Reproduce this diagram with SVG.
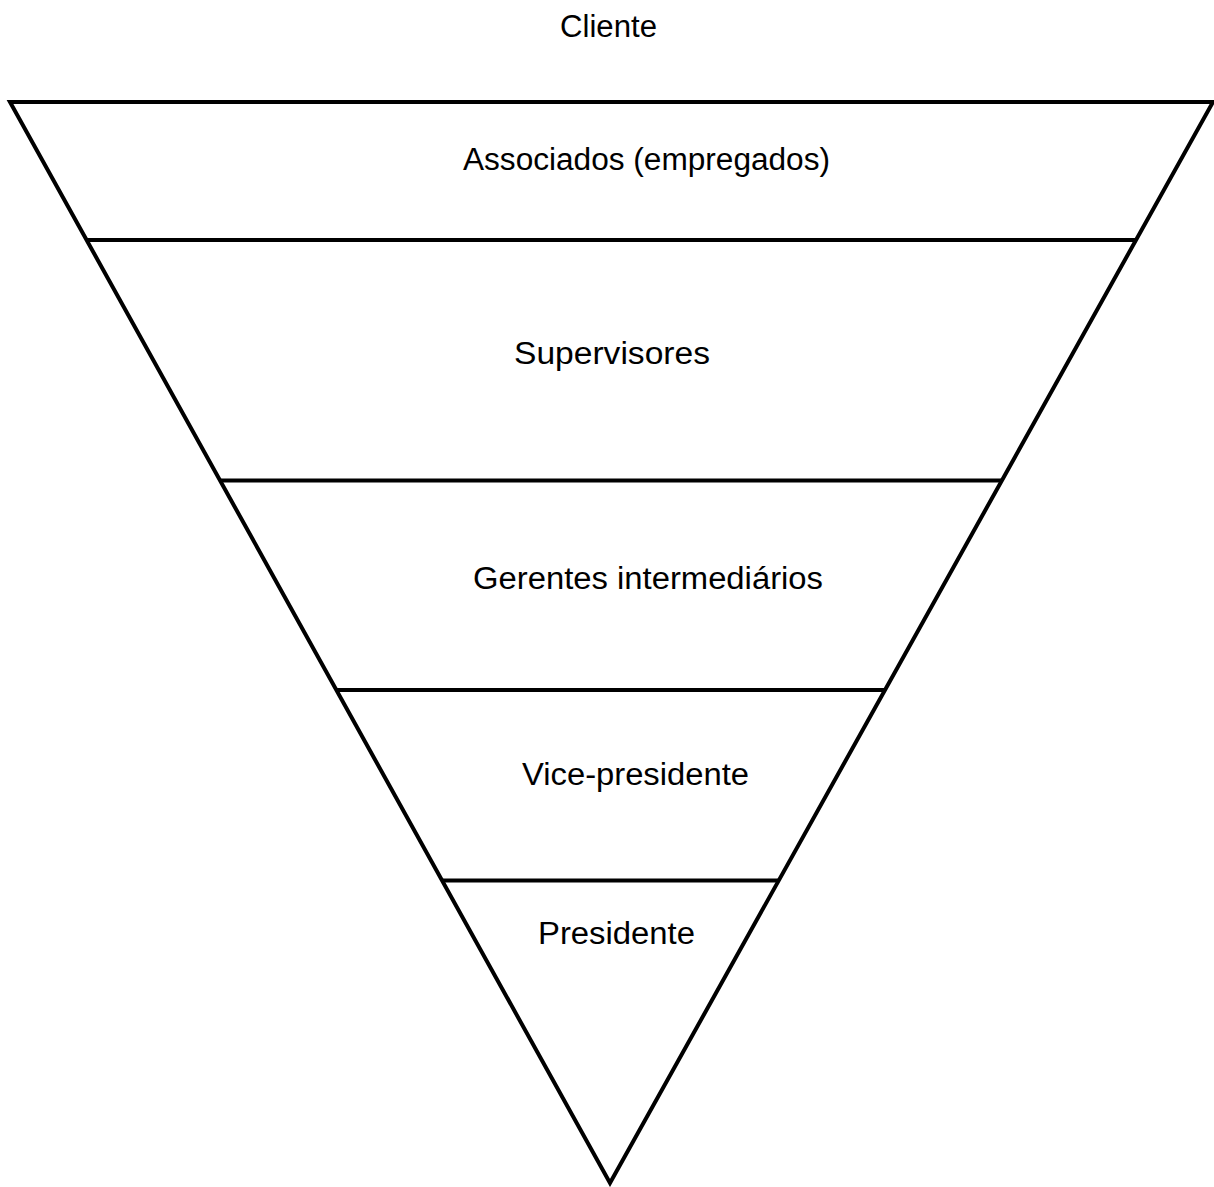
<svg xmlns="http://www.w3.org/2000/svg" width="1214" height="1187" viewBox="0 0 1214 1187">
<style>
.ln{stroke:#000;stroke-width:4;fill:none;stroke-linejoin:miter;stroke-linecap:butt}
.t{font-family:"Liberation Sans",Arial,sans-serif;font-size:31px;fill:#000}
</style>
<rect width="1214" height="1187" fill="#fff"/>
<g id="cliente"><text class="t" x="560" y="37" textLength="97" lengthAdjust="spacingAndGlyphs">Cliente</text></g>
<g id="outline"><polygon class="ln" points="10,102 1213,102 610,1183"/></g>
<g id="connectors">
<line class="ln" x1="86.6" y1="240" x2="1136" y2="240"/>
<line class="ln" x1="220" y1="480.5" x2="1002" y2="480.5"/>
<line class="ln" x1="336.6" y1="690" x2="884.8" y2="690"/>
<line class="ln" x1="442.3" y1="880.5" x2="778.6" y2="880.5"/>
</g>
<g id="associados"><text class="t" x="463" y="170" textLength="367" lengthAdjust="spacingAndGlyphs">Associados (empregados)</text></g>
<g id="supervisores"><text class="t" x="514" y="364" textLength="196" lengthAdjust="spacingAndGlyphs">Supervisores</text></g>
<g id="gerentes"><text class="t" x="473" y="589" textLength="350" lengthAdjust="spacingAndGlyphs">Gerentes intermediários</text></g>
<g id="vice"><text class="t" x="522" y="785" textLength="227" lengthAdjust="spacingAndGlyphs">Vice-presidente</text></g>
<g id="presidente"><text class="t" x="538" y="944" textLength="157" lengthAdjust="spacingAndGlyphs">Presidente</text></g>
</svg>
